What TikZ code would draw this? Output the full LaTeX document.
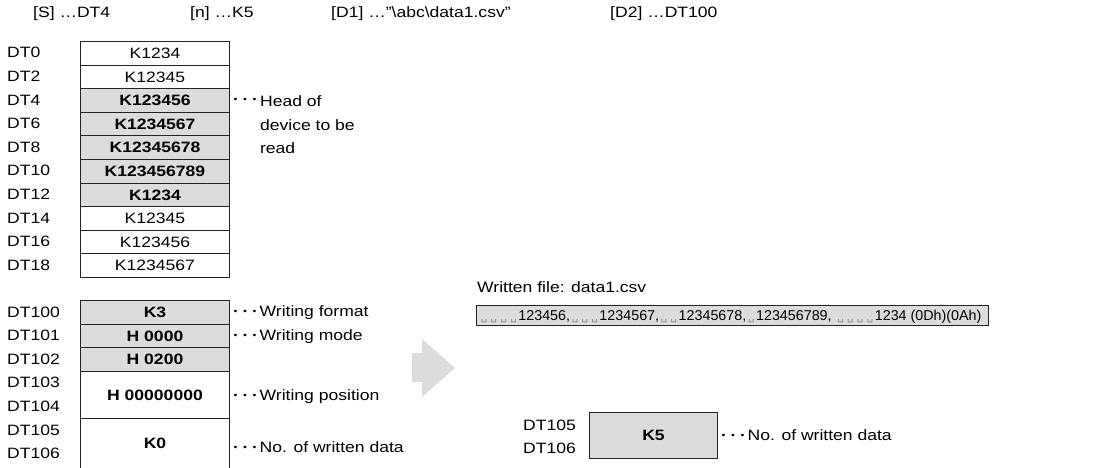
\documentclass[tikz,border=0pt]{standalone}
\usepackage{fontspec}
\setmainfont{Liberation Sans}[FakeStretch=1.17]
\newfontfamily\plainsans{Liberation Sans}
\newfontfamily\symfont{DejaVu Sans}
\definecolor{cellgray}{RGB}{220,220,220}
\definecolor{edge}{RGB}{35,35,35}
\definecolor{arrowgray}{RGB}{220,220,220}
% visible space marker used in the CSV line
\newcommand\vs{\makebox[9.8pt]{\symfont\color{gray}\fontsize{10}{10}\selectfont\char"2423}}
% spaced leader dots in front of the notes
\newcommand\lead{\makebox[9.5pt]{\textbf{·}}\makebox[9.5pt]{\textbf{·}}\makebox[9.5pt]{\textbf{·}}}
\begin{document}
\begin{tikzpicture}[x=1pt,y=-1pt,
  font=\fontsize{15}{17}\selectfont,
  cell/.style={draw=edge, line width=1pt, minimum width=149pt,
    minimum height=23.6pt, inner sep=0pt, anchor=north west},
  hot/.style={cell, fill=cellgray, font=\fontsize{15}{17}\selectfont\bfseries},
  lbl/.style={anchor=west, inner sep=0pt},
  note/.style={anchor=west, inner sep=0pt}]
\useasboundingbox (0,0) rectangle (1105,467);

% instruction operands
\node[lbl] (opS)  at (33,14)  {[S] …DT4};
\node[lbl] (opN)  at (190,14) {[n] …K5};
\node[lbl] (opD1) at (331,14) {[D1] …"\textbackslash abc\textbackslash data1.csv"};
\node[lbl] (opD2) at (610,14) {[D2] …DT100};

% source data area DT0 - DT18
\foreach \v/\s/\d [count=\i from 0] in
  {K1234/cell/0, K12345/cell/2, K123456/hot/4, K1234567/hot/6,
   K12345678/hot/8, K123456789/hot/10, K1234/hot/12, K12345/cell/14,
   K123456/cell/16, K1234567/cell/18}{
  \node[\s] (a\i) at (80,{41+\i*23.6}) {\v};
  \node[lbl] (la\i) at (7,{41+\i*23.6+11.8}) {DT\d};
}
\node[note] (hd) at (231,101) {\lead};
\node[note] (h1) at (hd.east) {Head of};
\node[note] (h2) at (h1.west |- 0,125) {device to be};
\node[note] (h3) at (h1.west |- 0,148) {read};

% control data area DT100 - DT106
\node[hot] (b0) at (80,300)   {K3};
\node[hot] (b1) at (80,323.6) {H 0000};
\node[hot] (b2) at (80,347.2) {H 0200};
\node[cell, minimum height=47.2pt, font=\fontsize{15}{17}\selectfont\bfseries] (b3) at (80,370.8) {H 00000000};
\node[cell, minimum height=50pt, font=\fontsize{15}{17}\selectfont\bfseries] (b4) at (80,418) {K0};

\node[lbl] (lb0) at (7,312) {DT100};
\node[lbl] (lb1) at (7,335.5) {DT101};
\node[lbl] (lb2) at (7,359) {DT102};
\node[lbl] (lb3) at (7,382.5) {DT103};
\node[lbl] (lb4) at (7,406) {DT104};
\node[lbl] (lb5) at (7,430) {DT105};
\node[lbl] (lb6) at (7,453.5) {DT106};

\node[note] (n0) at (231,313) {\lead Writing format};
\node[note] (n1) at (231,337) {\lead Writing mode};
\node[note] (n3) at (231,397) {\lead Writing position};
\node[note] (n4) at (231,447) {\lead No. of written data};

% transition arrow
\fill[arrowgray] (412,353) -- (422,353) -- (422,339) -- (455,368)
  -- (422,397) -- (422,382) -- (412,382) -- cycle;

% written file
\node[lbl] (wf) at (477,287) {Written file: data1.csv};
\node[draw=edge, line width=1.3pt, fill=cellgray, minimum width=512pt,
  minimum height=20pt, inner sep=0pt, anchor=north west] (csv) at (476,305) {};
\node[anchor=base west, inner sep=0pt, font=\plainsans\fontsize{14.3}{16}\selectfont]
  (csvtxt) at (479,320.5)
  {\vs\vs\vs\vs123456,\vs\vs\vs1234567,\vs\vs12345678,\vs123456789, \vs\vs\vs\vs1234 (0Dh)(0Ah)};

% result
\node[lbl] (rc0) at (523,425) {DT105};
\node[lbl] (rc1) at (523,448) {DT106};
\node[cell, fill=cellgray, minimum width=128pt, minimum height=46pt,
  font=\fontsize{15}{17}\selectfont\bfseries] (res) at (589,412) {K5};
\node[note] (rn) at (719,435) {\lead No. of written data};
\end{tikzpicture}
\end{document}
